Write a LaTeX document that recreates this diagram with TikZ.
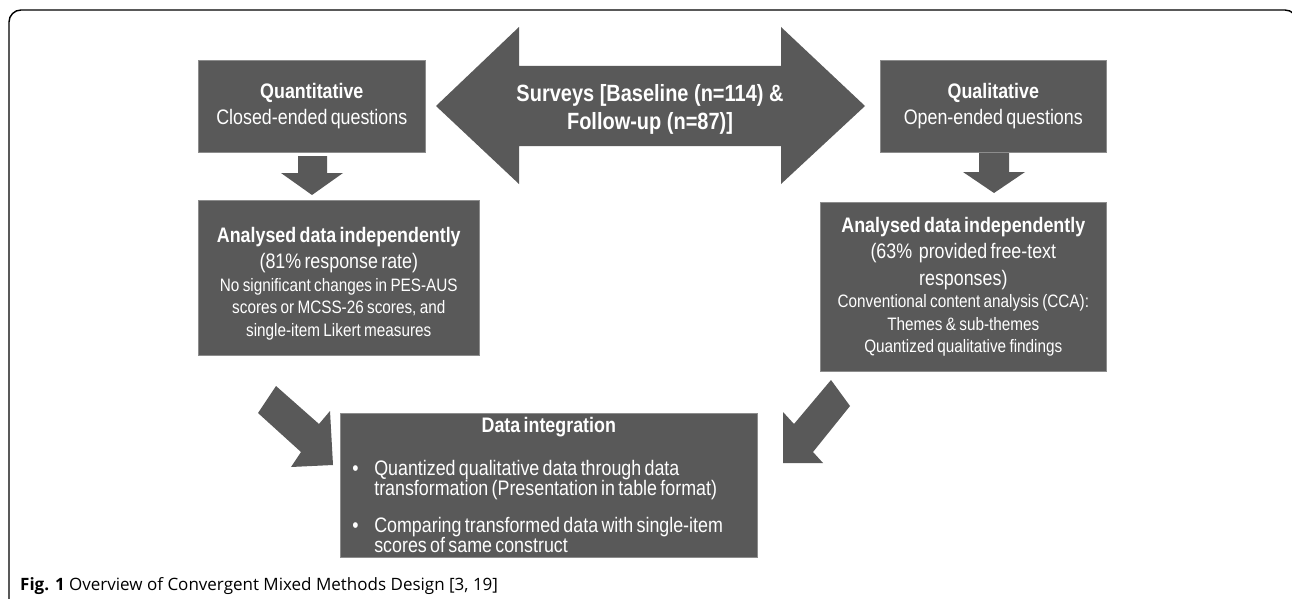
\documentclass[tikz,border=0pt]{standalone}
\usepackage{fontspec}
\setmainfont{Liberation Sans}[FakeStretch=0.85]
\newfontfamily\capfont{Open Sans}
\definecolor{boxgray}{HTML}{595959}
\newcommand\fBig{\fontsize{21}{26.5}\selectfont}
\newcommand\fSmall{\fontsize{18}{22.5}\selectfont}
\newcommand\fBul{\fontsize{21}{19.5}\selectfont}
\newcommand\bulitem[1]{\noindent\makebox[22pt][l]{\textbullet}\parbox[t]{370pt}{\raggedright #1}\par}
\tikzset{
  box/.style={fill=boxgray, draw=black!45, line width=0.6pt, text=white, inner sep=0pt, align=center, anchor=north west},
  blockarrow/.style={fill=boxgray, draw=none},
  frameline/.style={draw=black, line width=1.4pt, rounded corners=12pt}
}
\begin{document}
\begin{tikzpicture}[x=1pt,y=-1pt]
\useasboundingbox (0,0) rectangle (1292,599);
\clip (0,0) rectangle (1292,599);
\fill[white] (0,0) rectangle (1292,599);
\draw[frameline] (9,610) -- (9,10) -- (1297,10) -- (1297,610);

% boxes
\node[box, minimum width=227pt, minimum height=92pt, text width=220pt] (quant) at (198,60)
  {\fBig\textbf{Quantitative}\par Closed-ended questions\par};
\node[box, minimum width=226pt, minimum height=92pt, text width=220pt] (qual) at (880,60)
  {\fBig\textbf{Qualitative}\par Open-ended questions\par};
\node[box, minimum width=281pt, minimum height=155pt, text width=270pt] (anl) at (198,200)
  {\fBig\rule{0pt}{27pt}\textbf{Analysed data independently}\par (81\% response rate)\par
   \fSmall No significant changes in PES-AUS\\ scores or MCSS-26 scores, and\\ single-item Likert measures\par};
\node[box, minimum width=286pt, minimum height=169pt, text width=276pt] (anr) at (820,202)
  {\fBig\textbf{Analysed data independently}\par (63\%\ \ provided free-text\\ responses)\par
   \fSmall Conventional content analysis (CCA):\\ Themes \& sub-themes\\ Quantized qualitative findings\par};
\node[box, minimum width=417pt, minimum height=144pt, text width=393pt, align=left] (integ) at (340,413)
  {\fBig\centering\textbf{Data integration}\par\vspace{22pt}
   \fBul\raggedright
   \bulitem{Quantized qualitative data through data\\ transformation (Presentation in table format)}\vspace{16pt}
   \bulitem{Comparing transformed data with single-item\\ scores of same construct}};

% double arrow with surveys
\fill[blockarrow] (436,106) -- (519,27) -- (519,66) -- (781,66) -- (781,27) -- (865,106)
  -- (781,184) -- (781,146) -- (519,146) -- (519,184) -- cycle;
\node[text=white, align=center, font=\fontsize{23.5}{28}\selectfont\bfseries] (surv) at (650,109)
  {Surveys [Baseline (n=114) \&\\ Follow-up (n=87)]};

% down arrows
\fill[blockarrow] (298,156) -- (327,156) -- (327,173) -- (343,173) -- (312,195) -- (281,173) -- (298,173) -- cycle;
\fill[blockarrow] (979,153) -- (1009,153) -- (1009,172) -- (1025,172) -- (994,193) -- (963,172) -- (979,172) -- cycle;

% diagonal arrows
\fill[blockarrow] (276,386) -- (319,424) -- (330,411) -- (333,465) -- (291,467) -- (301,452) -- (258,413) -- cycle;
\fill[blockarrow] (831,380) -- (850,406) -- (813,452) -- (823,463) -- (783,463) -- (783,412) -- (794,424) -- cycle;

% caption
\node[anchor=base west, inner sep=0pt, font=\capfont\fontsize{17}{20}\selectfont] (cap) at (20,590)
  {\textbf{Fig. 1} Overview of Convergent Mixed Methods Design [3, 19]};
\end{tikzpicture}
\end{document}
